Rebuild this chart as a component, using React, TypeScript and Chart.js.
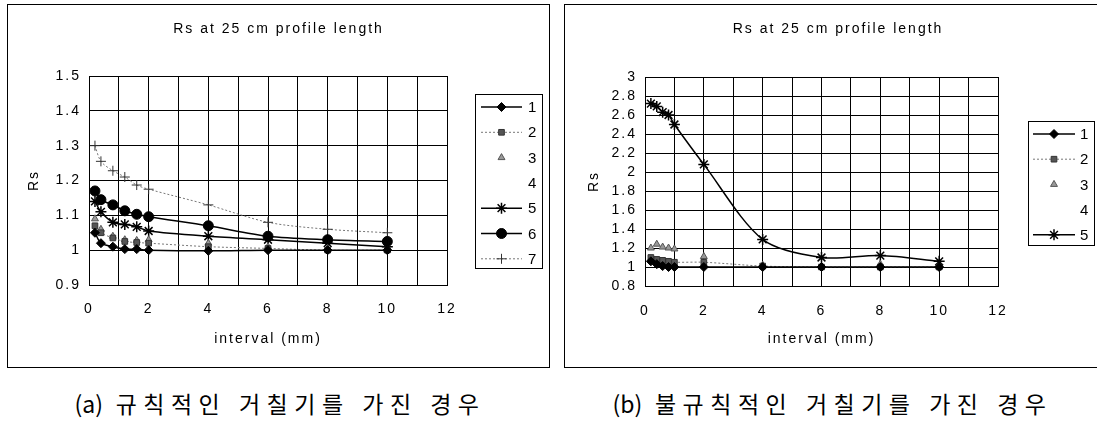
import React, { useEffect, useRef } from 'react';
import { Chart, registerables } from 'chart.js';
import { drawPoint } from 'chart.js/helpers';

Chart.register(...registerables);

// ---------- data ----------
const titleText = 'Rs at 25 cm profile length';
const xTitle = 'interval (mm)';
const yTitle = 'Rs';
const seriesLabels = ['1', '2', '3', '4', '5', '6', '7'];

// (a) regular roughness
const intervalsA = [0.2, 0.4, 0.8, 1.2, 1.6, 2, 4, 6, 8, 10];
const regular1 = [1.05, 1.02, 1.01, 1.003, 1.003, 1.0, 0.998, 1.0, 1.0, 1.0];
const regular2 = [1.07, 1.05, 1.035, 1.025, 1.022, 1.02, 1.01, 1.005, 1.0, 1.0];
const regular3 = [1.09, 1.06, 1.04, 1.03, 1.028, 1.03, 1.02, 1.01, 1.005, 1.0];
const regular4: number[] = [];
const regular5 = [1.14, 1.11, 1.08, 1.074, 1.067, 1.055, 1.04, 1.03, 1.02, 1.01];
const regular6 = [1.17, 1.145, 1.13, 1.113, 1.103, 1.096, 1.07, 1.04, 1.03, 1.025];
const regular7 = [1.3, 1.255, 1.228, 1.21, 1.187, 1.175, 1.13, 1.08, 1.06, 1.05];

// (b) irregular roughness
const intervalsB = [0.2, 0.4, 0.6, 0.8, 1, 2, 4, 6, 8, 10];
const irregular1 = [1.06, 1.03, 1.01, 1.0, 1.0, 1.0, 1.0, 1.0, 1.0, 1.0];
const irregular2 = [1.1, 1.08, 1.07, 1.06, 1.05, 1.05, 1.01, 1.0, 1.0, 1.0];
const irregular3 = [1.2, 1.24, 1.21, 1.2, 1.19, 1.11, 1.02, 1.0, 1.03, 1.0];
const irregular4: number[] = [];
const irregular5 = [2.72, 2.69, 2.63, 2.6, 2.5, 2.08, 1.29, 1.1, 1.12, 1.06];

const captionA = '(a) 규칙적인 거칠기를 가진 경우';
const captionB = '(b) 불규칙적인 거칠기를 가진 경우';

// ---------- styles ----------
const seriesStyles = [
  { line: '#000', width: 1.5, dash: [] as number[], point: 'rectRot', radius: 4.5, fill: '#000', stroke: '#000', pbw: 1, showLine: true },
  { line: '#777', width: 1, dash: [2, 2], point: 'rect', radius: 4, fill: '#555', stroke: '#333', pbw: 1, showLine: true },
  { line: '#888', width: 1, dash: [] as number[], point: 'triangle', radius: 4, fill: '#999', stroke: '#555', pbw: 1, showLine: false },
  { line: '#fff', width: 0, dash: [] as number[], point: 'circle', radius: 0, fill: '#fff', stroke: '#fff', pbw: 0, showLine: false },
  { line: '#000', width: 1.5, dash: [] as number[], point: 'star', radius: 5.5, fill: '#000', stroke: '#000', pbw: 1.5, showLine: true },
  { line: '#000', width: 1.5, dash: [] as number[], point: 'circle', radius: 5, fill: '#000', stroke: '#000', pbw: 1, showLine: true },
  { line: '#777', width: 1, dash: [2, 2], point: 'cross', radius: 5, fill: '#444', stroke: '#333', pbw: 1, showLine: true },
];

function makeDatasets(xs: number[], series: number[][]) {
  return series.map((ys, i) => {
    const s = seriesStyles[i];
    return {
      label: seriesLabels[i],
      data: ys.map((y, j) => ({ x: xs[j], y })),
      borderColor: s.line,
      borderWidth: s.width,
      borderDash: s.dash,
      showLine: s.showLine,
      tension: 0.3,
      pointStyle: s.point,
      pointRadius: s.radius,
      pointBackgroundColor: s.fill,
      pointBorderColor: s.stroke,
      pointBorderWidth: s.pbw,
      fill: false,
      xAxisID: 'x',
      yAxisID: 'y',
    };
  });
}

const spacingPlugin = {
  id: 'spacing',
  beforeDraw(chart: any) {
    chart.ctx.letterSpacing = '2px';
  },
};

const boxLegend = {
  id: 'boxLegend',
  afterDraw(chart: any, _args: any, opts: any) {
    if (!opts || opts.w === undefined) return;
    const ctx = chart.ctx;
    ctx.save();
    ctx.setLineDash([]);
    ctx.strokeStyle = '#000';
    ctx.lineWidth = 1;
    ctx.strokeRect(opts.x + 0.5, opts.y + 0.5, opts.w, opts.h);
    chart.data.datasets.forEach((ds: any, i: number) => {
      const cy = opts.y + opts.rowStart + i * opts.rowGap;
      const mx = (opts.lineX0 + opts.lineX1) / 2;
      if (ds.showLine !== false && ds.borderWidth > 0) {
        ctx.save();
        ctx.strokeStyle = ds.borderColor;
        ctx.lineWidth = ds.borderWidth;
        ctx.setLineDash(ds.borderDash || []);
        ctx.beginPath();
        ctx.moveTo(opts.lineX0, cy);
        ctx.lineTo(opts.lineX1, cy);
        ctx.stroke();
        ctx.restore();
      }
      if (ds.pointRadius > 0) {
        ctx.save();
        ctx.setLineDash([]);
        ctx.fillStyle = ds.pointBackgroundColor;
        ctx.strokeStyle = ds.pointBorderColor;
        ctx.lineWidth = ds.pointBorderWidth;
        drawPoint(ctx, { pointStyle: ds.pointStyle, radius: ds.pointRadius, borderWidth: ds.pointBorderWidth, rotation: 0 } as any, mx, cy);
        ctx.restore();
      }
      ctx.fillStyle = '#000';
      ctx.font = '15px "Liberation Sans", Arial, sans-serif';
      ctx.textAlign = 'left';
      ctx.textBaseline = 'middle';
      ctx.fillText(ds.label, opts.labelX, cy + 1);
    });
    ctx.restore();
  },
};

Chart.defaults.font.family = '"Liberation Sans", Arial, sans-serif';
Chart.defaults.font.size = 14;
Chart.defaults.color = '#000';

interface PanelCfg {
  width: number;
  height: number;
  xs: number[];
  series: number[][];
  yMin: number;
  yMax: number;
  yStep: number;
  chartTop: number;
  chartBottom: number;
  chartLeft: number;
  chartRight: number;
  yTickPad: number;
  xTickPad: number;
  yTitlePad: number;
  xTitlePad: number;
  legend: any;
}

function makeConfig(p: PanelCfg): any {
  const titleLH = 14 * 1.2;
  const titleTop = 15.4;
  return {
    type: 'line',
    data: { datasets: makeDatasets(p.xs, p.series) },
    options: {
      responsive: false,
      animation: false,
      devicePixelRatio: 1,
      layout: { padding: 0 },
      plugins: {
        legend: { display: false },
        tooltip: { enabled: false },
        title: {
          display: true,
          text: titleText,
          color: '#000',
          font: { size: 14, weight: 'normal' },
          padding: { top: titleTop, bottom: p.chartTop - titleTop - titleLH },
        },
        boxLegend: p.legend,
      },
      scales: {
        x: {
          type: 'linear',
          min: 0,
          max: 12,
          afterFit: (s: any) => { s.height = p.height - p.chartBottom; },
          ticks: {
            stepSize: 1,
            padding: p.xTickPad,
            maxRotation: 0,
            autoSkip: false,
            font: { size: 14 },
            callback: (v: any) => (Number(v) % 2 === 0 ? String(v) : ''),
          },
          grid: { color: '#000', lineWidth: 1, drawTicks: false },
          border: { color: '#000', width: 1 },
          title: { display: true, text: xTitle, font: { size: 14 }, padding: { top: 0, bottom: p.xTitlePad } },
        },
        y: {
          type: 'linear',
          position: 'left',
          min: p.yMin,
          max: p.yMax,
          afterFit: (s: any) => { s.width = p.chartLeft; },
          ticks: {
            stepSize: p.yStep,
            padding: p.yTickPad,
            autoSkip: false,
            font: { size: 14 },
            callback: (v: any) => String(+Number(v).toFixed(2)),
          },
          grid: { color: '#000', lineWidth: 1, drawTicks: false },
          border: { color: '#000', width: 1 },
          title: { display: true, text: yTitle, font: { size: 14 }, padding: { top: p.yTitlePad, bottom: 0 } },
        },
        legendSpace: {
          type: 'linear',
          position: 'right',
          display: true,
          afterFit: (s: any) => { s.width = p.width - p.chartRight; },
          ticks: { display: false },
          grid: { display: false, drawOnChartArea: false },
          border: { display: false },
          title: { display: false },
        },
      },
    },
    plugins: [spacingPlugin, boxLegend],
  };
}

function Panel({ cfg }: { cfg: PanelCfg }) {
  const ref = useRef<HTMLCanvasElement | null>(null);
  useEffect(() => {
    if (!ref.current) return;
    const chart = new Chart(ref.current, makeConfig(cfg));
    return () => chart.destroy();
  }, []);
  return (
    <canvas
      ref={ref}
      width={cfg.width}
      height={cfg.height}
      style={{ display: 'block', width: cfg.width, height: cfg.height }}
    />
  );
}

const panelA: PanelCfg = {
  width: 541,
  height: 362,
  xs: intervalsA,
  series: [regular1, regular2, regular3, regular4, regular5, regular6, regular7],
  yMin: 0.9,
  yMax: 1.5,
  yStep: 0.1,
  chartTop: 71,
  chartBottom: 280,
  chartLeft: 81,
  chartRight: 439,
  yTickPad: 8,
  xTickPad: 16,
  yTitlePad: 17.6,
  xTitlePad: 19.6,
  legend: { x: 467, y: 89, w: 67, h: 174, rowStart: 13, rowGap: 25.3, lineX0: 473, lineX1: 514, labelX: 520 },
};

const panelB: PanelCfg = {
  width: 546,
  height: 362,
  xs: intervalsB,
  series: [irregular1, irregular2, irregular3, irregular4, irregular5],
  yMin: 0.8,
  yMax: 3,
  yStep: 0.2,
  chartTop: 72,
  chartBottom: 281,
  chartLeft: 80,
  chartRight: 433,
  yTickPad: 8,
  xTickPad: 17,
  yTitlePad: 20.6,
  xTitlePad: 19.6,
  legend: { x: 463, y: 116, w: 66, h: 124, rowStart: 13, rowGap: 25.2, lineX0: 468, lineX1: 510, labelX: 515 },
};

const captionStyle: React.CSSProperties = {
  position: 'absolute',
  top: 388,
  height: 30,
  lineHeight: '30px',
  textAlign: 'center',
  fontFamily: '"Noto Sans CJK KR", sans-serif',
  fontSize: 23,
  letterSpacing: 6.5,
  wordSpacing: 1,
  color: '#000',
  whiteSpace: 'nowrap',
};

function Caption({ text, left, width }: { text: string; left: number; width: number }) {
  const idx = text.indexOf(' ');
  const head = text.slice(0, idx);
  const rest = text.slice(idx);
  return (
    <div style={{ ...captionStyle, left, width }}>
      <span style={{ letterSpacing: 0 }}>{head}</span>
      {rest}
    </div>
  );
}

export default function App() {
  return (
    <div
      style={{
        position: 'absolute',
        left: 0,
        top: 0,
        width: 1097,
        height: 428,
        overflow: 'hidden',
        background: '#fff',
      }}
    >
      <div
        style={{
          position: 'absolute',
          left: 7,
          top: 4,
          width: 541,
          height: 362,
          border: '1px solid #000',
        }}
      >
        <Panel cfg={panelA} />
      </div>
      <div
        style={{
          position: 'absolute',
          left: 564,
          top: 4,
          width: 546,
          height: 362,
          borderLeft: '1px solid #000',
          borderTop: '1px solid #000',
          borderBottom: '1px solid #000',
        }}
      >
        <Panel cfg={panelB} />
      </div>
      <Caption text={captionA} left={7} width={546} />
      <Caption text={captionB} left={564} width={537} />
    </div>
  );
}
